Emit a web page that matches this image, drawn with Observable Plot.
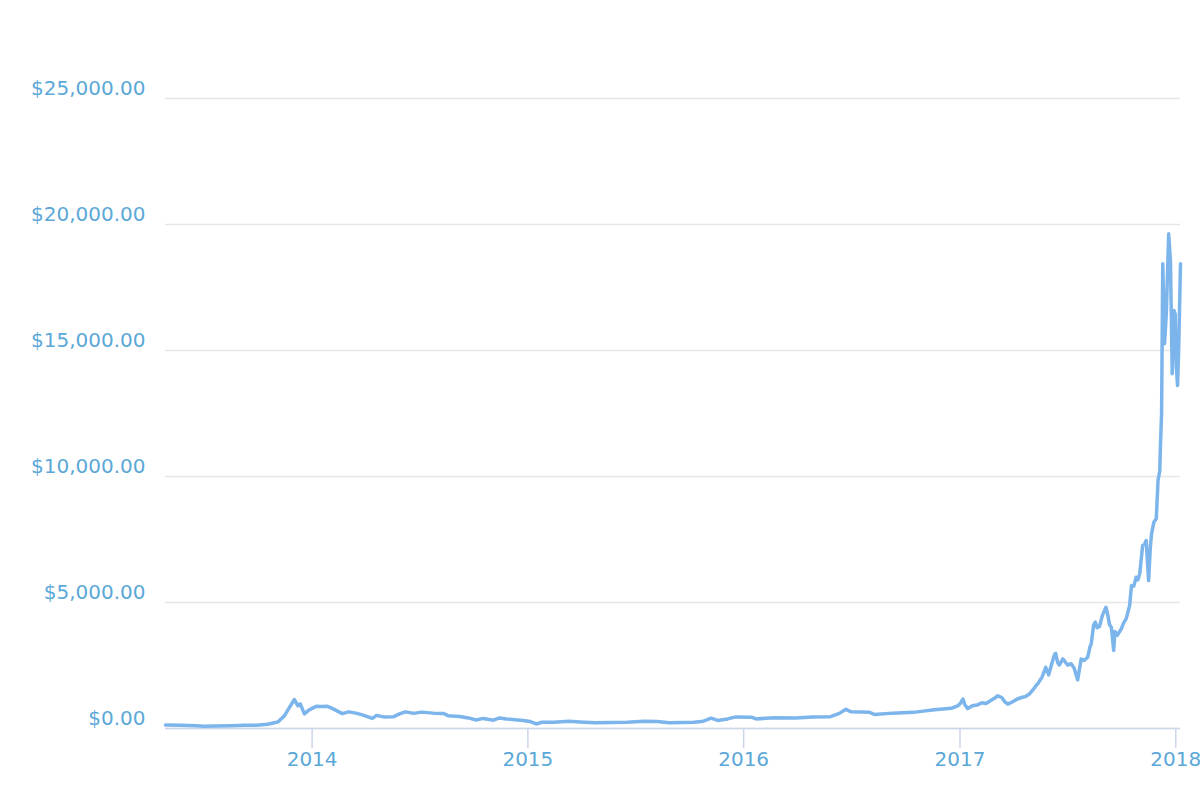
<!DOCTYPE html>
<html>
<head>
<meta charset="utf-8">
<script src="https://cdn.jsdelivr.net/npm/d3@7"></script>
<script src="https://cdn.jsdelivr.net/npm/@observablehq/plot@0.6"></script>
<style>
  html, body { margin: 0; padding: 0; background: #fff; }
  #chart svg { display: block; }
</style>
</head>
<body>
<div id="chart"></div>
<script>
const dates = [
  "2013-04-28","2013-05-24","2013-06-19","2013-07-02","2013-07-22","2013-08-17","2013-09-08","2013-09-28",
  "2013-10-18","2013-11-04","2013-11-15","2013-11-24","2013-12-02","2013-12-08","2013-12-12","2013-12-19","2013-12-27",
  "2014-01-08","2014-01-16","2014-01-27","2014-02-04","2014-02-13","2014-02-21","2014-03-04","2014-03-16","2014-03-27",
  "2014-04-07","2014-04-13","2014-04-20","2014-05-02","2014-05-19","2014-05-30","2014-06-08","2014-06-22","2014-07-05",
  "2014-07-25","2014-08-11","2014-08-19","2014-09-08","2014-09-22","2014-10-06","2014-10-17","2014-11-04","2014-11-14",
  "2014-11-26","2014-12-10","2014-12-24",
  "2015-01-05","2015-01-15","2015-01-25","2015-02-14","2015-03-11","2015-04-06","2015-04-25","2015-05-21","2015-06-18",
  "2015-07-16","2015-08-08","2015-08-28","2015-09-20","2015-10-09","2015-10-25","2015-11-07","2015-11-18","2015-12-05",
  "2015-12-19",
  "2016-01-14","2016-01-22","2016-02-22","2016-03-29","2016-04-26","2016-05-27","2016-06-11","2016-06-22","2016-07-01",
  "2016-08-01","2016-08-09","2016-09-09","2016-10-14","2016-10-31","2016-11-19","2016-12-17","2016-12-28",
  "2017-01-01","2017-01-06","2017-01-09","2017-01-14","2017-01-22","2017-01-30","2017-02-07","2017-02-14","2017-02-22",
  "2017-03-01","2017-03-06","2017-03-13","2017-03-18","2017-03-23","2017-03-31","2017-04-08","2017-04-15","2017-04-22",
  "2017-04-29","2017-05-05","2017-05-10","2017-05-13","2017-05-20","2017-05-26","2017-05-31","2017-06-05","2017-06-10",
  "2017-06-12","2017-06-15","2017-06-18","2017-06-24","2017-07-02","2017-07-08","2017-07-13","2017-07-19","2017-07-25",
  "2017-07-30","2017-08-05","2017-08-09","2017-08-11","2017-08-15","2017-08-18","2017-08-21","2017-08-25","2017-08-30",
  "2017-09-05","2017-09-08","2017-09-11","2017-09-14","2017-09-18","2017-09-20","2017-09-24","2017-10-01","2017-10-05",
  "2017-10-09","2017-10-15","2017-10-18","2017-10-22","2017-10-26","2017-10-29","2017-11-01","2017-11-06","2017-11-09",
  "2017-11-12","2017-11-16","2017-11-19","2017-11-21","2017-11-25","2017-11-29","2017-12-02","2017-12-05","2017-12-06",
  "2017-12-08","2017-12-10","2017-12-13","2017-12-16","2017-12-20","2017-12-23","2017-12-26","2017-12-29","2017-12-31",
  "2018-01-02","2018-01-04","2018-01-06","2018-01-09"
];
const prices = [
  140,125,105,90,95,110,125,130,
  170,260,500,845,1150,900,980,580,740,
  880,870,880,800,690,590,660,610,540,
  450,400,520,460,470,590,660,600,650,
  610,600,510,480,420,340,400,330,420,
  380,350,320,
  275,180,250,245,290,250,225,235,250,
  290,275,225,235,245,290,410,320,380,
  460,
  450,380,430,420,460,470,600,760,660,
  640,560,610,640,690,740,800,900,
  980,1170,950,790,900,930,1020,990,1110,
  1210,1300,1220,1050,970,1060,1170,1230,1270,
  1380,1550,1720,1790,2050,2430,2130,2550,2950,
  2980,2630,2520,2760,2520,2570,2400,1930,2760,
  2700,2830,3250,3360,4100,4220,4000,4050,4500,
  4810,4500,4120,4020,3100,3850,3700,3960,4200,
  4350,4880,5670,5650,6000,5900,6140,7260,7300,
  7460,5870,7200,7720,8190,8320,9840,10240,11160,
  12490,18440,15270,16450,19630,18570,14080,16590,16450,
  14340,13610,15130,18440
];
const yTicks = [0, 5000, 10000, 15000, 20000, 25000];
const yearTicks = ["2014", "2015", "2016", "2017", "2018"];

const data = dates.map((d, i) => ({date: new Date(d + "T00:00:00Z"), price: prices[i]}));
const money = d3.format(",.2f");

const chart = Plot.plot({
  width: 1200,
  height: 800,
  marginLeft: 165,
  marginRight: 20,
  marginTop: 98,
  marginBottom: 72,
  style: {fontFamily: "'DejaVu Sans', Verdana, sans-serif", fontSize: "20px", color: "#5ba8d8", background: "#fff"},
  x: {type: "utc", label: null},
  y: {domain: [0, 25000], label: null},
  marks: [
    Plot.gridY(yTicks, {stroke: "#e6e6e6", strokeOpacity: 1, strokeWidth: 1.5}),
    Plot.ruleY([0], {stroke: "#ccd6eb", strokeWidth: 1.5}),
    Plot.axisY(yTicks, {label: null, tickSize: 0, tickPadding: 20, dy: -10, tickFormat: d => "$" + money(d), fill: "#5ba8d8", fontSize: 20}),
    Plot.axisX(yearTicks.map(y => new Date(y + "-01-01T00:00:00Z")), {label: null, tickSize: 20, tickPadding: 3, tickFormat: d3.utcFormat("%Y"), stroke: "#ccd6eb", strokeOpacity: 1, strokeWidth: 1.5, fill: "#5ba8d8", fontSize: 20}),
    Plot.lineY(data, {x: "date", y: "price", stroke: "#7cb5ec", strokeWidth: 3.5, strokeLinejoin: "round", strokeLinecap: "round"})
  ]
});
document.getElementById("chart").appendChild(chart);
</script>
</body>
</html>
